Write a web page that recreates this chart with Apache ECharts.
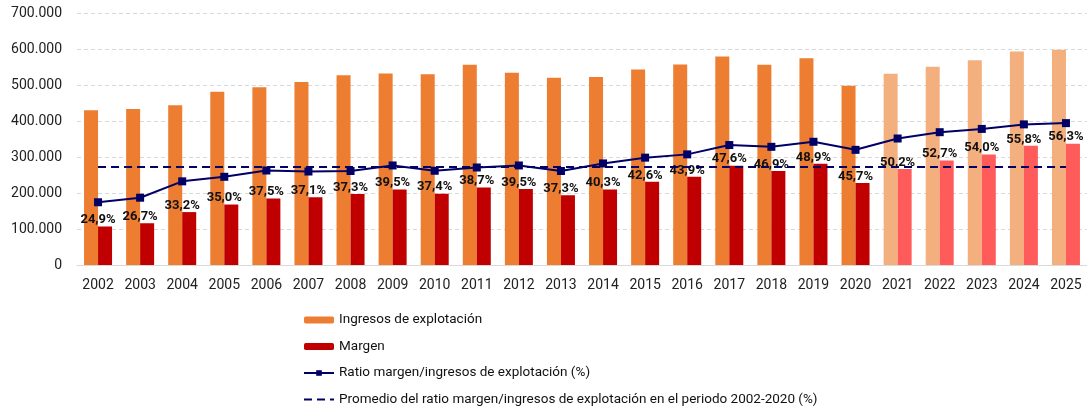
<!DOCTYPE html>
<html>
<head>
<meta charset="utf-8">
<script src="https://cdn.jsdelivr.net/npm/echarts@6/dist/echarts.min.js"></script>
<style>
    html, body {margin: 0; padding: 0; background: #fff;}
    #chart {width: 1087px; height: 412px;}
</style>
</head>
<body>
<div id="chart"></div>
<script>
    var years = ['2002', '2003', '2004', '2005', '2006', '2007', '2008', '2009', '2010', '2011', '2012', '2013',
        '2014', '2015', '2016', '2017', '2018', '2019', '2020', '2021', '2022', '2023', '2024', '2025'];
    var ingresos = [430000, 433000, 444000, 481000, 494000, 508000, 527000, 532000, 530000, 556000, 534000, 520000,
        522000, 543000, 557000, 579000, 556000, 574000, 498000, 531000, 551000, 569000, 593000, 598000];
    var margen = [107000, 116000, 147000, 168000, 185000, 188000, 197000, 210000, 198000, 215000, 211000, 194000,
        210000, 231000, 245000, 276000, 261000, 281000, 228000, 267000, 290000, 307000, 331000, 337000];
    var ratio = [24.9, 26.7, 33.2, 35.0, 37.5, 37.1, 37.3, 39.5, 37.4, 38.7, 39.5, 37.3,
        40.3, 42.6, 43.9, 47.6, 46.9, 48.9, 45.7, 50.2, 52.7, 54.0, 55.8, 56.3];
    var promedio = [38.9, 38.9, 38.9, 38.9, 38.9, 38.9, 38.9, 38.9, 38.9, 38.9, 38.9, 38.9,
        38.9, 38.9, 38.9, 38.9, 38.9, 38.9, 38.9, 38.9, 38.9, 38.9, 38.9, 38.9];
    var firstForecast = 19; // 2021 en adelante: colores claros

    var navy = '#000066';
    var myChart = echarts.init(document.getElementById('chart'));

    function pct(v) {
        return v.toFixed(1).replace('.', ',') + '%';
    }

    var option = {
        animation: false,
        textStyle: {fontFamily: 'Roboto'},
        grid: {left: 77, right: 0, top: 13, bottom: 147},
        legend: {
            orient: 'vertical',
            left: 303,
            top: 312,
            height: 100,
            padding: 0,
            itemWidth: 30,
            itemHeight: 7,
            itemGap: 10.5,
            textStyle: {fontSize: 13.5, color: '#111', lineHeight: 16, fontFamily: 'Roboto'},
            data: ['Ingresos de explotación', 'Margen', 'Ratio margen/ingresos de explotación (%)',
                {
                    name: 'Promedio del ratio margen/ingresos de explotación en el periodo 2002-2020 (%)',
                    itemStyle: {opacity: 0}
                }]
        },
        xAxis: {
            type: 'category',
            data: years,
            axisLine: {lineStyle: {color: '#d9d9d9', width: 1}},
            axisTick: {show: false},
            axisLabel: {fontSize: 14, color: '#222', margin: 13}
        },
        yAxis: [
            {
                type: 'value',
                min: 0,
                max: 700000,
                interval: 100000,
                axisLine: {show: false},
                axisTick: {show: false},
                splitLine: {lineStyle: {color: '#d9d9d9', type: [4, 3]}},
                axisLabel: {
                    fontSize: 14, color: '#222', margin: 15,
                    formatter: function (v) {
                        return String(v).replace(/\B(?=(\d{3})+(?!\d))/g, '.');
                    }
                }
            },
            {
                type: 'value',
                min: 0,
                max: 100,
                show: false,
                splitLine: {show: false}
            }
        ],
        series: [
            {
                name: 'Ingresos de explotación',
                type: 'bar',
                barWidth: 14,
                barGap: '0%',
                itemStyle: {color: '#ED7D31'},
                data: ingresos.map(function (v, i) {
                    return i >= firstForecast ? {value: v, itemStyle: {color: '#F4AF7E'}} : v;
                })
            },
            {
                name: 'Margen',
                type: 'bar',
                barWidth: 14,
                itemStyle: {color: '#C00000'},
                label: {
                    show: true,
                    position: 'top',
                    distance: 0,
                    offset: [-7, 0],
                    fontSize: 13,
                    fontWeight: 'bold',
                    color: '#111',
                    formatter: function (p) {
                        return pct(ratio[p.dataIndex]);
                    }
                },
                data: margen.map(function (v, i) {
                    return i >= firstForecast ? {value: v, itemStyle: {color: '#FF5B5B'}} : v;
                })
            },
            {
                name: 'Ratio margen/ingresos de explotación (%)',
                type: 'line',
                yAxisIndex: 1,
                symbol: 'rect',
                symbolSize: 8,
                lineStyle: {color: navy, width: 2},
                itemStyle: {color: navy},
                data: ratio
            },
            {
                name: 'Promedio del ratio margen/ingresos de explotación en el periodo 2002-2020 (%)',
                type: 'line',
                yAxisIndex: 1,
                symbol: 'none',
                lineStyle: {color: navy, width: 2, type: [8, 5]},
                itemStyle: {color: navy},
                data: promedio.map(function (v, i) {
                    return i === 0 ? {
                        value: v,
                        label: {
                            show: true, position: 'top', distance: 10,
                            fontSize: 13, fontWeight: 'bold', color: navy,
                            formatter: function (p) { return pct(p.value); }
                        }
                    } : v;
                })
            }
        ]
    };
    myChart.setOption(option);
</script>
</body>
</html>
